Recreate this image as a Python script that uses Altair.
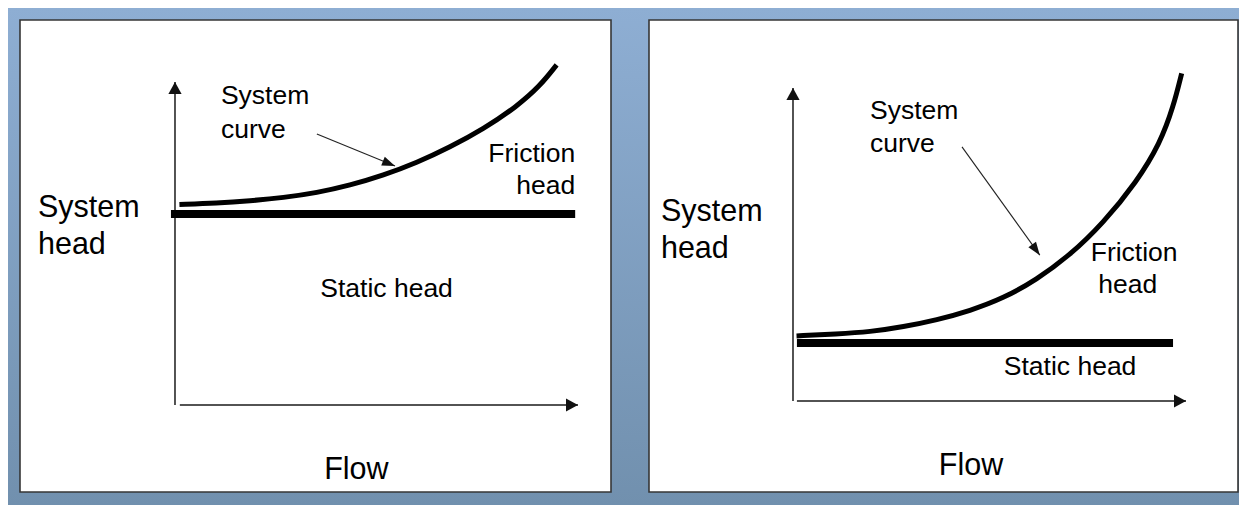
import altair as alt
import pandas as pd

FONT = "Liberation Sans"

# ---------------- Left diagram (flow in % of axis, head in % of axis) ----------------
L_CURVE_FLOW = [1.1, 10.4, 18.6, 26.9, 35.2, 43.4, 51.7, 60.0, 68.2, 76.5, 84.8, 90.6, 94.7]
L_CURVE_HEAD = [62.1, 62.5, 63.2, 64.2, 65.7, 68.0, 71.1, 75.0, 79.8, 85.4, 92.4, 98.8, 105.3]
L_STATIC_FLOW = [-1.0, 99.3]
L_STATIC_HEAD = 59.1
L_AXIS_FLOW0 = [0.0, 1.2]
L_AXIS_HEAD0 = [0.0, 0.0]
L_AXIS_FLOW1 = [0.0, 100.0]
L_AXIS_HEAD1 = [100.0, 0.0]
L_PTR_FLOW = [35.2, 54.6]
L_PTR_HEAD = [83.9, 74.0]
L_PTR_ANGLE = 112.3
L_DOMAIN_FLOW = [-38.46, 108.19]
L_DOMAIN_HEAD = [-26.93, 119.20]
L_LABEL_TEXT = ["System", "curve", "Friction", "head", "Static head", "System", "head", "Flow"]
L_LABEL_FLOW = [11.4, 11.4, 99.3, 99.3, 52.5, -34.0, -34.0, 45.0]
L_LABEL_HEAD = [93.2, 82.7, 75.2, 65.3, 33.4, 58.2, 46.7, -22.9]
L_LABEL_KIND = ["note-left", "note-left", "note-right", "note-right", "note-center",
                "axis-left", "axis-left", "axis-center"]

# ---------------- Right diagram ----------------
R_CURVE_FLOW = [0.9, 11.1, 19.6, 28.1, 36.6, 45.0, 53.5, 61.9, 70.5, 78.9, 87.5, 93.4, 96.8, 98.9]
R_CURVE_HEAD = [20.8, 21.4, 22.1, 23.7, 25.9, 28.8, 32.8, 38.7, 46.6, 56.8, 70.1, 82.3, 94.1, 104.7]
R_STATIC_FLOW = [1.0, 96.7]
R_STATIC_HEAD = 18.5
R_AXIS_FLOW0 = [0.0, 1.0]
R_AXIS_HEAD0 = [0.0, 0.0]
R_AXIS_FLOW1 = [0.0, 100.0]
R_AXIS_HEAD1 = [100.0, 0.0]
R_PTR_FLOW = [43.0, 62.8]
R_PTR_HEAD = [81.2, 46.6]
R_PTR_ANGLE = 144.2
R_DOMAIN_FLOW = [-36.64, 113.23]
R_DOMAIN_HEAD = [-29.07, 121.73]
R_LABEL_TEXT = ["System", "curve", "Friction", "head", "Static head", "System", "head", "Flow"]
R_LABEL_FLOW = [19.6, 19.6, 86.8, 85.2, 70.5, -33.6, -33.6, 45.3]
R_LABEL_HEAD = [90.1, 79.6, 44.7, 34.5, 8.3, 57.5, 45.7, -23.6]
R_LABEL_KIND = ["note-left", "note-left", "note-center", "note-center", "note-center",
                "axis-left", "axis-left", "axis-center"]

KIND_STYLE = {
    "note-left": ("left", 26.5),
    "note-right": ("right", 26.5),
    "note-center": ("center", 26.5),
    "axis-left": ("left", 30.5),
    "axis-center": ("center", 30.5),
}

AXIS_HEAD_PATH = "M0,0L-0.55,1L0.55,1Z"
PTR_HEAD_PATH = "M0,0L-0.36,1L0.36,1Z"

BG = alt.Gradient(
    gradient="linear",
    stops=[alt.GradientStop(color="#8eaed3", offset=0),
           alt.GradientStop(color="#7190ae", offset=1)],
    x1=0, x2=0, y1=0, y2=1,
)

ONE = pd.DataFrame({"k": [0]})


def panel(w, h, dom_f, dom_h, cf, ch, sf, sh, af0, ah0, af1, ah1,
          pf, ph, pang, ltext, lflow, lhead, lkind, with_bg):
    sx = alt.Scale(domain=dom_f, nice=False, zero=False)
    sy = alt.Scale(domain=dom_h, nice=False, zero=False)

    def X(f):
        return alt.X(f, type="quantitative", scale=sx, axis=None)

    def Y(f):
        return alt.Y(f, type="quantitative", scale=sy, axis=None)

    layers = []
    if with_bg:
        layers.append(
            alt.Chart(ONE).mark_rect(fill=BG, strokeWidth=0).encode(
                x=alt.value(-12), x2=alt.value(1219),
                y=alt.value(-12), y2=alt.value(485))
        )
    layers.append(
        alt.Chart(ONE).mark_rect(fill="white", stroke="#363636", strokeWidth=1.6).encode(
            x=alt.value(0), x2=alt.value("width"),
            y=alt.value(0), y2=alt.value("height"))
    )

    axes = pd.DataFrame({"f0": af0, "h0": ah0, "f1": af1, "h1": ah1})
    layers.append(
        alt.Chart(axes).mark_rule(color="#1a1a1a", strokeWidth=1.5, strokeCap="butt").encode(
            x=X("f0"), y=Y("h0"), x2="f1", y2="h1")
    )
    tips = pd.DataFrame({"f": [af1[0], af1[1]], "h": [ah1[0], ah1[1]], "a": [0, 90]})
    layers.append(
        alt.Chart(tips).mark_point(shape=AXIS_HEAD_PATH, filled=True, size=576,
                                   color="#111111", opacity=1, strokeWidth=0).encode(
            x=X("f"), y=Y("h"), angle=alt.Angle("a:Q", scale=None))
    )

    static = pd.DataFrame({"f0": [sf[0]], "f1": [sf[1]], "h": [sh]})
    layers.append(
        alt.Chart(static).mark_rule(color="black", strokeWidth=8, strokeCap="butt").encode(
            x=X("f0"), x2="f1", y=Y("h"))
    )

    curve = pd.DataFrame({"f": cf, "h": ch, "i": list(range(len(cf)))})
    layers.append(
        alt.Chart(curve).mark_line(color="black", strokeWidth=5, strokeCap="butt",
                                   interpolate="basis").encode(
            x=X("f"), y=Y("h"), order="i:Q")
    )

    ptr = pd.DataFrame({"f0": [pf[0]], "h0": [ph[0]], "f1": [pf[1]], "h1": [ph[1]]})
    layers.append(
        alt.Chart(ptr).mark_rule(color="#222222", strokeWidth=1.1).encode(
            x=X("f0"), y=Y("h0"), x2="f1", y2="h1")
    )
    ptip = pd.DataFrame({"f": [pf[1]], "h": [ph[1]], "a": [pang]})
    layers.append(
        alt.Chart(ptip).mark_point(shape=PTR_HEAD_PATH, filled=True, size=676,
                                   color="#111111", opacity=1, strokeWidth=0).encode(
            x=X("f"), y=Y("h"), angle=alt.Angle("a:Q", scale=None))
    )

    labels = pd.DataFrame({"t": ltext, "f": lflow, "h": lhead, "kind": lkind})
    for kind, (align, size) in KIND_STYLE.items():
        sub = labels[labels["kind"] == kind]
        if len(sub) == 0:
            continue
        layers.append(
            alt.Chart(sub).mark_text(align=align, baseline="alphabetic", font=FONT,
                                     fontSize=size, color="black").encode(
                x=X("f"), y=Y("h"), text="t:N")
        )

    return alt.layer(*layers).properties(width=w, height=h)


left = panel(591, 472, L_DOMAIN_FLOW, L_DOMAIN_HEAD, L_CURVE_FLOW, L_CURVE_HEAD,
             L_STATIC_FLOW, L_STATIC_HEAD, L_AXIS_FLOW0, L_AXIS_HEAD0, L_AXIS_FLOW1, L_AXIS_HEAD1,
             L_PTR_FLOW, L_PTR_HEAD, L_PTR_ANGLE,
             L_LABEL_TEXT, L_LABEL_FLOW, L_LABEL_HEAD, L_LABEL_KIND, True)
right = panel(589, 472, R_DOMAIN_FLOW, R_DOMAIN_HEAD, R_CURVE_FLOW, R_CURVE_HEAD,
              R_STATIC_FLOW, R_STATIC_HEAD, R_AXIS_FLOW0, R_AXIS_HEAD0, R_AXIS_FLOW1, R_AXIS_HEAD1,
              R_PTR_FLOW, R_PTR_HEAD, R_PTR_ANGLE,
              R_LABEL_TEXT, R_LABEL_FLOW, R_LABEL_HEAD, R_LABEL_KIND, False)

chart = alt.hconcat(left, right, spacing=38, bounds="flush").properties(
    padding=0, background="#809ec1"
).configure_view(stroke=None)

chart.save("out.html", embed_options={"renderer": "svg", "actions": False})
